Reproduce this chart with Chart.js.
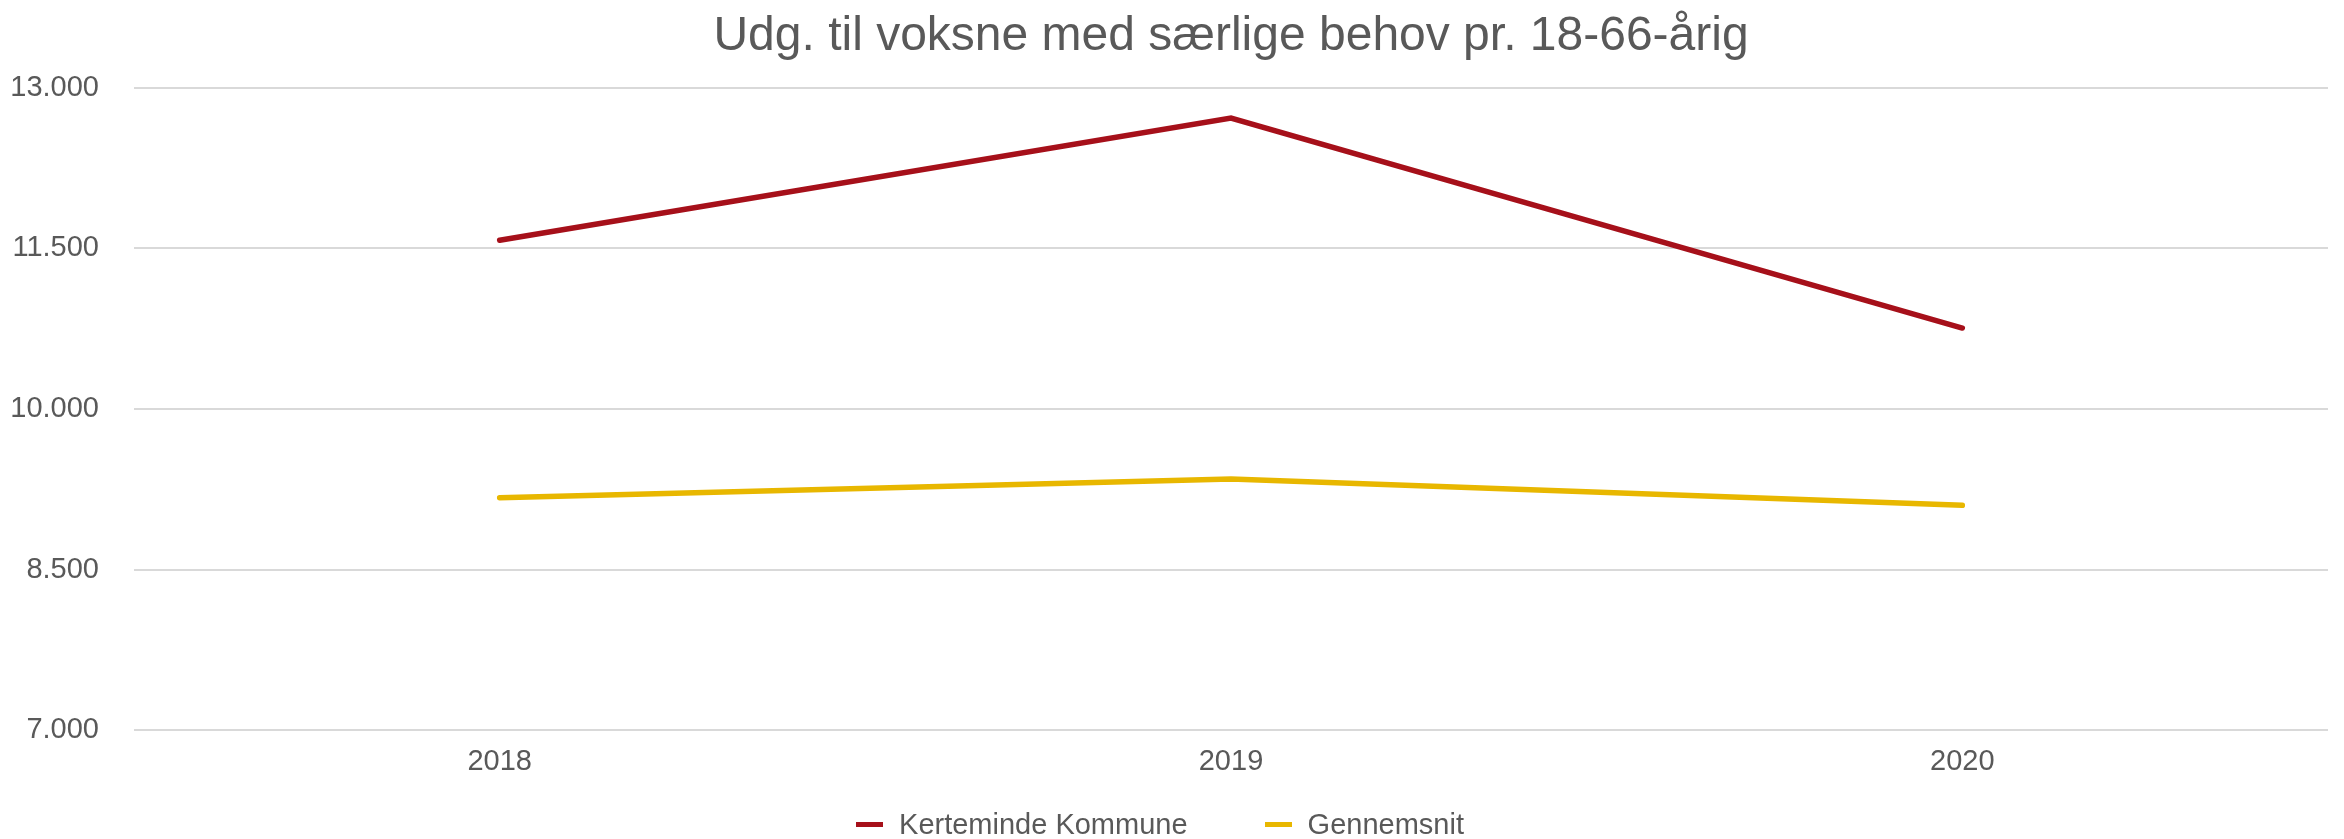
<!DOCTYPE html>
<html lang="da">
<head>
    <meta charset="UTF-8">
    <title>Udg. til voksne med særlige behov pr. 18-66-årig</title>
    <script src="https://cdn.jsdelivr.net/npm/chart.js"></script>
    <style>
        body {
            margin: 0;
            background: #ffffff;
            font-family: 'Liberation Sans', Arial, sans-serif;
        }
        #wrap {
            position: relative;
            width: 2344px;
            height: 839px;
        }
        #legend {
            position: absolute;
            left: 0;
            right: 24px;
            top: 808px;
            height: 32px;
            display: flex;
            justify-content: center;
            align-items: center;
            gap: 77px;
            color: #595959;
            font-size: 29px;
        }
        #legend .item {
            display: flex;
            align-items: center;
        }
        #legend .mark {
            display: inline-block;
            width: 27px;
            height: 5px;
            margin-right: 16px;
        }
    </style>
</head>
<body>
    <div id="wrap">
        <canvas id="chart"></canvas>
        <div id="legend"></div>
    </div>

    <script>
        // år og værdier (kr. pr. 18-66-årig)
        const years = ['2018', '2019', '2020'];
        const kerteminde = [11575, 12715, 10755];
        const gennemsnit = [9170, 9345, 9100];
        const yTicks = [7000, 8500, 10000, 11500, 13000];

        const textColor = '#595959';
        const font = "'Liberation Sans', Arial, sans-serif";

        // tusindtalsseparator med punktum
        const fmt = v => String(v).replace(/\B(?=(\d{3})+(?!\d))/g, '.');

        const ctx = document.getElementById('chart').getContext('2d');
        const chart = new Chart(ctx, {
            type: 'line',
            data: {
                labels: years,
                datasets: [{
                    label: 'Kerteminde Kommune',
                    data: kerteminde,
                    borderColor: '#a6101a',
                    backgroundColor: '#a6101a',
                    borderWidth: 5.5,
                    borderCapStyle: 'round',
                    pointRadius: 0,
                    tension: 0
                }, {
                    label: 'Gennemsnit',
                    data: gennemsnit,
                    borderColor: '#e8b700',
                    backgroundColor: '#e8b700',
                    borderWidth: 5.5,
                    borderCapStyle: 'round',
                    pointRadius: 0,
                    tension: 0
                }]
            },
            options: {
                responsive: true,
                maintainAspectRatio: false,
                animation: false,
                layout: {
                    padding: { top: 0, left: 0, right: 16, bottom: 46 }
                },
                plugins: {
                    legend: { display: false },
                    tooltip: { enabled: false },
                    title: {
                        display: true,
                        fullSize: false, // centreres over plotområdet
                        text: 'Udg. til voksne med særlige behov pr. 18-66-årig',
                        color: textColor,
                        font: { family: font, size: 48, weight: 'normal' },
                        padding: { top: 8, bottom: 22 }
                    }
                },
                scales: {
                    x: {
                        offset: true,
                        grid: { display: false, drawTicks: false },
                        border: { display: false },
                        ticks: {
                            color: textColor,
                            padding: 14,
                            font: { family: font, size: 29 }
                        }
                    },
                    y: {
                        min: 7000,
                        max: 13000,
                        afterBuildTicks: axis => {
                            axis.ticks = yTicks.map(v => ({ value: v }));
                        },
                        afterFit: axis => {
                            axis.width = 134;
                        },
                        grid: { color: '#d9d9d9', lineWidth: 2, drawTicks: false },
                        border: { display: false },
                        ticks: {
                            color: textColor,
                            padding: 35,
                            font: { family: font, size: 29 },
                            callback: v => fmt(v)
                        }
                    }
                }
            }
        });

        // forklaring under diagrammet
        const legend = document.getElementById('legend');
        chart.data.datasets.forEach(ds => {
            const item = document.createElement('span');
            item.className = 'item';
            const mark = document.createElement('span');
            mark.className = 'mark';
            mark.style.background = ds.borderColor;
            item.appendChild(mark);
            item.appendChild(document.createTextNode(ds.label));
            legend.appendChild(item);
        });
    </script>
</body>
</html>
